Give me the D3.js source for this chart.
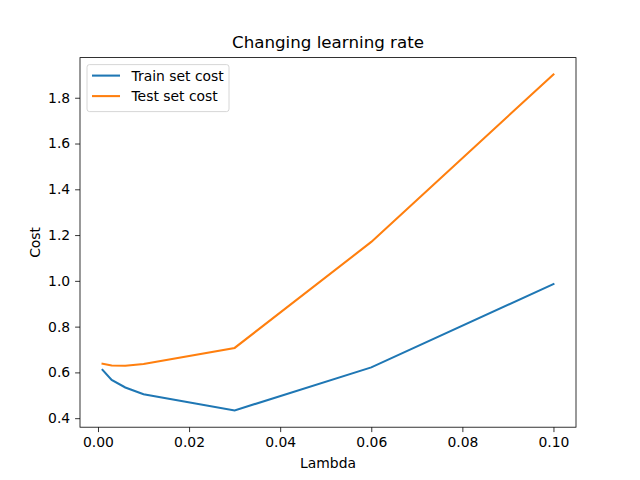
<!DOCTYPE html>
<html><head><meta charset="utf-8">
<script src="https://cdn.jsdelivr.net/npm/d3@7"></script>
<style>body{margin:0;background:#fff}svg text{font-family:"DejaVu Sans",sans-serif}</style>
</head><body>
<script>
const lambdas = [0.001, 0.003, 0.006, 0.01, 0.03, 0.06, 0.1];
const trainCost = [0.611, 0.567, 0.534, 0.505, 0.434, 0.622, 0.986];
const testCost = [0.638, 0.630, 0.629, 0.637, 0.707, 1.170, 1.902];
const xTicks = [0.00, 0.02, 0.04, 0.06, 0.08, 0.10];
const yTicks = [0.4, 0.6, 0.8, 1.0, 1.2, 1.4, 1.6, 1.8];
const seriesNames = ["Train set cost", "Test set cost"];
const colors = ["#1f77b4", "#ff7f0e"];

const W = 640, H = 480;
const L = 80, R = 576, T = 57.6, B = 427.2;
const svg = d3.select("body").append("svg").attr("width", W).attr("height", H);

const xmin = d3.min(lambdas), xmax = d3.max(lambdas), xm = (xmax - xmin) * 0.05;
const allY = trainCost.concat(testCost);
const ymin = d3.min(allY), ymax = d3.max(allY), ym = (ymax - ymin) * 0.05;
const x = d3.scaleLinear().domain([xmin - xm, xmax + xm]).range([L, R]);
const y = d3.scaleLinear().domain([ymin - ym, ymax + ym]).range([B, T]);

const line = d3.line().x((d, i) => x(lambdas[i])).y(d => y(d));
[trainCost, testCost].forEach((s, k) => {
  svg.append("path").datum(s).attr("d", line).attr("fill", "none")
    .attr("stroke", colors[k]).attr("stroke-width", 2.08).attr("stroke-linecap", "square");
});

const xAxis = d3.axisBottom(x).tickValues(xTicks).tickFormat(d3.format(".2f")).tickSize(4.9).tickPadding(4.9);
const yAxis = d3.axisLeft(y).tickValues(yTicks).tickFormat(d3.format(".1f")).tickSize(4.9).tickPadding(4.9);
const gx = svg.append("g").attr("transform", `translate(0,${B})`).call(xAxis);
const gy = svg.append("g").attr("transform", `translate(${L},0)`).call(yAxis);
[gx, gy].forEach(g => {
  g.select(".domain").remove();
  g.selectAll("line").attr("stroke", "#000").attr("stroke-width", 0.8);
  g.selectAll("text").attr("font-size", "13.9px").attr("fill", "#000").attr("font-family", "DejaVu Sans");
});

svg.append("rect").attr("x", L).attr("y", T).attr("width", R - L).attr("height", B - T)
  .attr("fill", "none").attr("stroke", "#000").attr("stroke-width", 0.8);

svg.append("text").attr("x", (L + R) / 2).attr("y", T - 10).attr("text-anchor", "middle")
  .attr("font-size", "16.7px").text("Changing learning rate");
svg.append("text").attr("x", (L + R) / 2).attr("y", 468).attr("text-anchor", "middle")
  .attr("font-size", "13.9px").text("Lambda");
svg.append("text").attr("transform", `translate(40,${(T + B) / 2}) rotate(-90)`).attr("text-anchor", "middle")
  .attr("font-size", "13.9px").text("Cost");

const lg = svg.append("g").attr("transform", `translate(${L + 7},${T + 7})`);
lg.append("rect").attr("width", 142).attr("height", 47).attr("rx", 2.5)
  .attr("fill", "#fff").attr("fill-opacity", 0.8).attr("stroke", "#ccc").attr("stroke-width", 0.8);
seriesNames.forEach((n, i) => {
  const yy = 11 + i * 20.5;
  lg.append("line").attr("x1", 5).attr("x2", 33).attr("y1", yy).attr("y2", yy)
    .attr("stroke", colors[i]).attr("stroke-width", 2.08);
  lg.append("text").attr("x", 44.5).attr("y", yy + 5).attr("font-size", "13.9px").text(n);
});
</script>
</body></html>
